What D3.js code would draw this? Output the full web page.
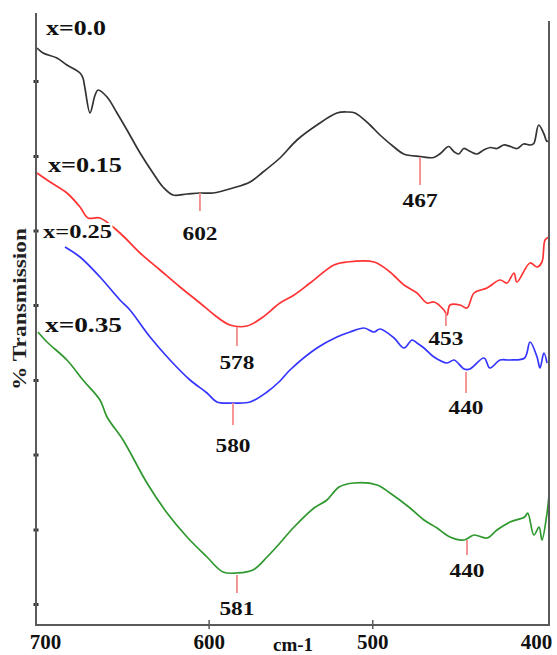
<!DOCTYPE html>
<html>
<head>
<meta charset="utf-8">
<script src="https://cdn.jsdelivr.net/npm/d3@7/dist/d3.min.js"></script>
<style>
  body { margin: 0; background: #fff; }
  svg { display: block; font-family: "Liberation Serif", "Times New Roman", Times, serif; font-weight: bold; }
</style>
</head>
<body>
<div id="chart"></div>
<script>
// FTIR spectra: [wavenumber cm-1, transmission (offset, arbitrary units)]
const specX000 = [
  [704.9, 115.4], [701.2, 114.4], [692.7, 113.4], [686.6, 112.0], [678.6, 110.4], [676.8, 109.4],
  [675.6, 107.4], [672.5, 102.4], [669.4, 106.0], [667.6, 107.0], [662.1, 105.6], [656.0, 102.4],
  [649.9, 99.0], [641.9, 94.4], [634.0, 90.4], [627.9, 87.6], [621.8, 86.0], [613.2, 86.2],
  [605.3, 86.4], [597.3, 86.4], [585.1, 87.4], [574.7, 88.6], [566.8, 90.6], [556.4, 93.4],
  [546.0, 97.0], [533.8, 100.0], [521.6, 102.4], [515.4, 102.6], [510.5, 102.4], [501.4, 100.0],
  [495.3, 98.0], [486.7, 95.6], [480.8, 94.2], [470.6, 93.7], [462.5, 93.5], [458.4, 94.3],
  [453.3, 95.7], [450.2, 94.7], [447.2, 94.2], [444.1, 95.3], [440.1, 94.7], [436.0, 94.2],
  [431.9, 95.0], [427.9, 95.5], [423.8, 95.3], [419.7, 96.0], [415.6, 95.7], [411.6, 95.3],
  [407.5, 96.2], [403.4, 96.0], [401.3, 96.3], [398.3, 100.0], [395.2, 98.3], [393.2, 96.7],
  [392.0, 97.0]
];
const specX015 = [
  [704.9, 90.4], [696.9, 88.6], [686.6, 86.4], [678.6, 83.6], [673.7, 81.4], [666.4, 81.4],
  [654.2, 78.4], [641.9, 74.4], [629.7, 71.0], [617.5, 67.6], [605.3, 64.4], [594.9, 61.6],
  [587.0, 60.0], [576.6, 59.8], [566.8, 61.6], [556.4, 64.4], [547.8, 66.0], [538.0, 68.4],
  [523.4, 72.0], [515.4, 72.6], [498.9, 72.6], [489.2, 70.6], [480.6, 68.0], [472.7, 66.4],
  [466.6, 64.4], [462.3, 64.6], [456.2, 63.0], [454.3, 62.0], [452.5, 64.0], [446.4, 64.0],
  [442.1, 63.4], [437.8, 66.4], [429.9, 67.4], [421.9, 69.0], [417.7, 68.4], [413.4, 70.4],
  [411.6, 68.6], [403.6, 72.4], [399.3, 71.6], [396.3, 72.6], [394.4, 77.0], [392.0, 77.6]
];
const specX025 = [
  [687.8, 75.6], [678.6, 73.6], [666.4, 69.6], [654.2, 65.0], [648.1, 63.0], [635.8, 57.6],
  [623.6, 53.0], [611.4, 49.0], [601.0, 46.4], [594.9, 44.6], [585.1, 44.4], [574.7, 44.6],
  [564.3, 46.6], [556.4, 48.8], [550.3, 51.0], [533.8, 55.4], [521.6, 57.6], [513.6, 58.6],
  [505.0, 59.4], [498.9, 58.6], [495.3, 59.2], [486.7, 57.4], [480.6, 55.4], [475.7, 57.0],
  [472.7, 56.4], [468.4, 55.4], [462.3, 53.6], [454.3, 52.4], [450.0, 53.0], [443.9, 51.2],
  [440.3, 51.2], [431.7, 53.4], [428.1, 51.4], [421.9, 53.0], [415.8, 53.0], [406.9, 53.4],
  [403.6, 56.6], [399.3, 53.6], [397.5, 51.4], [395.1, 54.4], [393.2, 52.4]
];
const specX035 = [
  [704.3, 58.6], [698.8, 56.6], [686.6, 53.0], [676.8, 49.0], [666.4, 45.0], [662.1, 41.6],
  [652.3, 37.0], [637.7, 28.4], [625.4, 22.4], [613.2, 17.6], [601.0, 13.6], [591.2, 10.6],
  [582.7, 10.4], [572.9, 11.0], [564.3, 13.6], [556.4, 16.4], [547.8, 19.6], [535.6, 23.4],
  [527.7, 25.0], [520.3, 27.6], [511.2, 28.4], [497.1, 28.0], [489.2, 26.4], [476.9, 23.4],
  [468.4, 21.0], [460.4, 19.4], [452.5, 17.6], [443.9, 17.0], [437.8, 18.0], [429.9, 17.4],
  [423.8, 19.0], [415.8, 20.6], [406.9, 21.6], [405.0, 22.4], [401.2, 18.0], [398.1, 19.6],
  [396.3, 17.0], [393.2, 22.4], [392.0, 26.0]
];

const seriesLabels = ['x=0.0', 'x=0.15', 'x=0.25', 'x=0.35'];
const seriesColors = ['#333333', '#ff3333', '#3535ff', '#2f982f'];

// band minima marked on the spectra
const peakSeries = [0, 0, 1, 1, 2, 2, 3, 3];
const peakLabels = ['602', '467', '578', '453', '580', '440', '581', '440'];
const peakWave = [605.3, 470.8, 582.7, 455.0, 585.1, 442.7, 582.7, 442.1];
const peakTrans = [86.4, 93.6, 59.6, 62.4, 44.4, 50.6, 10.0, 17.0];

const xTicks = [700, 600, 500, 400];
const yTicks = [4.2, 19.1, 34.1, 49.0, 64.0, 78.9, 93.8, 108.8];

// layout
const W = 557, H = 655;
const plot = { left: 36, right: 549, top: 13, bottom: 625 };
const labelPos = [
  { x: 46, y: 35, size: 22, len: 60 },
  { x: 48, y: 172, size: 22, len: 74 },
  { x: 43, y: 238, size: 19, len: 69 },
  { x: 45, y: 332, size: 22, len: 77 }
];
const peakTick = [18, 28, 19, 13, 22, 21, 18, 15];
const peakGap = [22, 15, 16, 12, 20, 14, 15, 15];

const svg = d3.select('#chart').append('svg')
  .attr('width', W)
  .attr('height', H);

const x = d3.scaleLinear().domain([705.5, 392]).range([plot.left, plot.right]);
const y = d3.scaleLinear().domain([0, 122.4]).range([plot.bottom, plot.top]);

const line = d3.line()
  .x(d => x(d[0]))
  .y(d => y(d[1]))
  .curve(d3.curveCatmullRom.alpha(0.5));

// spectra
const spectra = [specX000, specX015, specX025, specX035];
svg.append('g').selectAll('path')
  .data(spectra)
  .enter()
  .append('path')
  .attr('d', line)
  .attr('fill', 'none')
  .attr('stroke', (d, i) => seriesColors[i])
  .attr('stroke-width', 1.7)
  .attr('stroke-linejoin', 'round');

// peak markers
const peaks = peakLabels.map((t, i) => ({ t, s: peakSeries[i], w: peakWave[i], v: peakTrans[i], len: peakTick[i], gap: peakGap[i] }));
const pg = svg.append('g').selectAll('g')
  .data(peaks)
  .enter()
  .append('g')
  .attr('transform', d => `translate(${x(d.w)}, ${y(d.v)})`);
pg.append('line')
  .attr('y1', 0)
  .attr('y2', d => d.len)
  .attr('stroke', '#f48a8a')
  .attr('stroke-width', 1.8);
pg.append('text')
  .attr('y', d => d.len + d.gap)
  .attr('dy', '0.35em')
  .attr('text-anchor', 'middle')
  .attr('font-size', 19)
  .attr('textLength', 35)
  .attr('lengthAdjust', 'spacingAndGlyphs')
  .attr('fill', '#111')
  .text(d => d.t);

// series labels (white halo cuts the lines like in the original)
svg.append('g').selectAll('text')
  .data(seriesLabels)
  .enter()
  .append('text')
  .attr('x', (d, i) => labelPos[i].x)
  .attr('y', (d, i) => labelPos[i].y)
  .attr('font-size', (d, i) => labelPos[i].size)
  .attr('textLength', (d, i) => labelPos[i].len)
  .attr('lengthAdjust', 'spacingAndGlyphs')
  .attr('fill', '#111')
  .attr('stroke', '#fff')
  .attr('stroke-width', 4)
  .attr('paint-order', 'stroke')
  .text(d => d);

// axes
const axisColor = '#5a5a5a';
const xAxis = svg.append('g')
  .attr('transform', `translate(0, ${plot.bottom})`)
  .call(d3.axisBottom(x).tickValues(xTicks).tickSize(0).tickFormat(d3.format('d')));
xAxis.select('.domain').remove();
xAxis.selectAll('text')
  .attr('y', 9)
  .attr('font-size', 21)
  .attr('font-family', '"Liberation Serif", "Times New Roman", serif')
  .attr('font-weight', 'bold')
  .attr('fill', '#111');
xAxis.selectAll('.tick')
  .filter(d => d !== 700 && d !== 400)
  .append('line')
  .attr('y1', -5)
  .attr('y2', 4)
  .attr('stroke', axisColor)
  .attr('stroke-width', 1.5);

const yAxis = svg.append('g')
  .attr('transform', `translate(${plot.left}, 0)`)
  .call(d3.axisLeft(y).tickValues(yTicks).tickSize(0).tickFormat(''));
yAxis.select('.domain').remove();
yAxis.selectAll('.tick')
  .append('line')
  .attr('x1', -2.5)
  .attr('x2', 2.5)
  .attr('stroke', '#333')
  .attr('stroke-width', 3);

// frame: left, bottom, right
svg.append('path')
  .attr('d', `M${plot.left},${plot.top}V${plot.bottom}H${plot.right}V21`)
  .attr('fill', 'none')
  .attr('stroke', axisColor)
  .attr('stroke-width', 2);

// axis titles
svg.append('text')
  .attr('x', 293)
  .attr('y', 651)
  .attr('text-anchor', 'middle')
  .attr('font-size', 19)
  .attr('fill', '#111')
  .text('cm-1');

svg.append('text')
  .attr('transform', 'translate(26, 309) rotate(-90)')
  .attr('text-anchor', 'middle')
  .attr('font-size', 18)
  .attr('textLength', 162)
  .attr('lengthAdjust', 'spacingAndGlyphs')
  .attr('fill', '#222')
  .text('% Transmission');
</script>
</body>
</html>
